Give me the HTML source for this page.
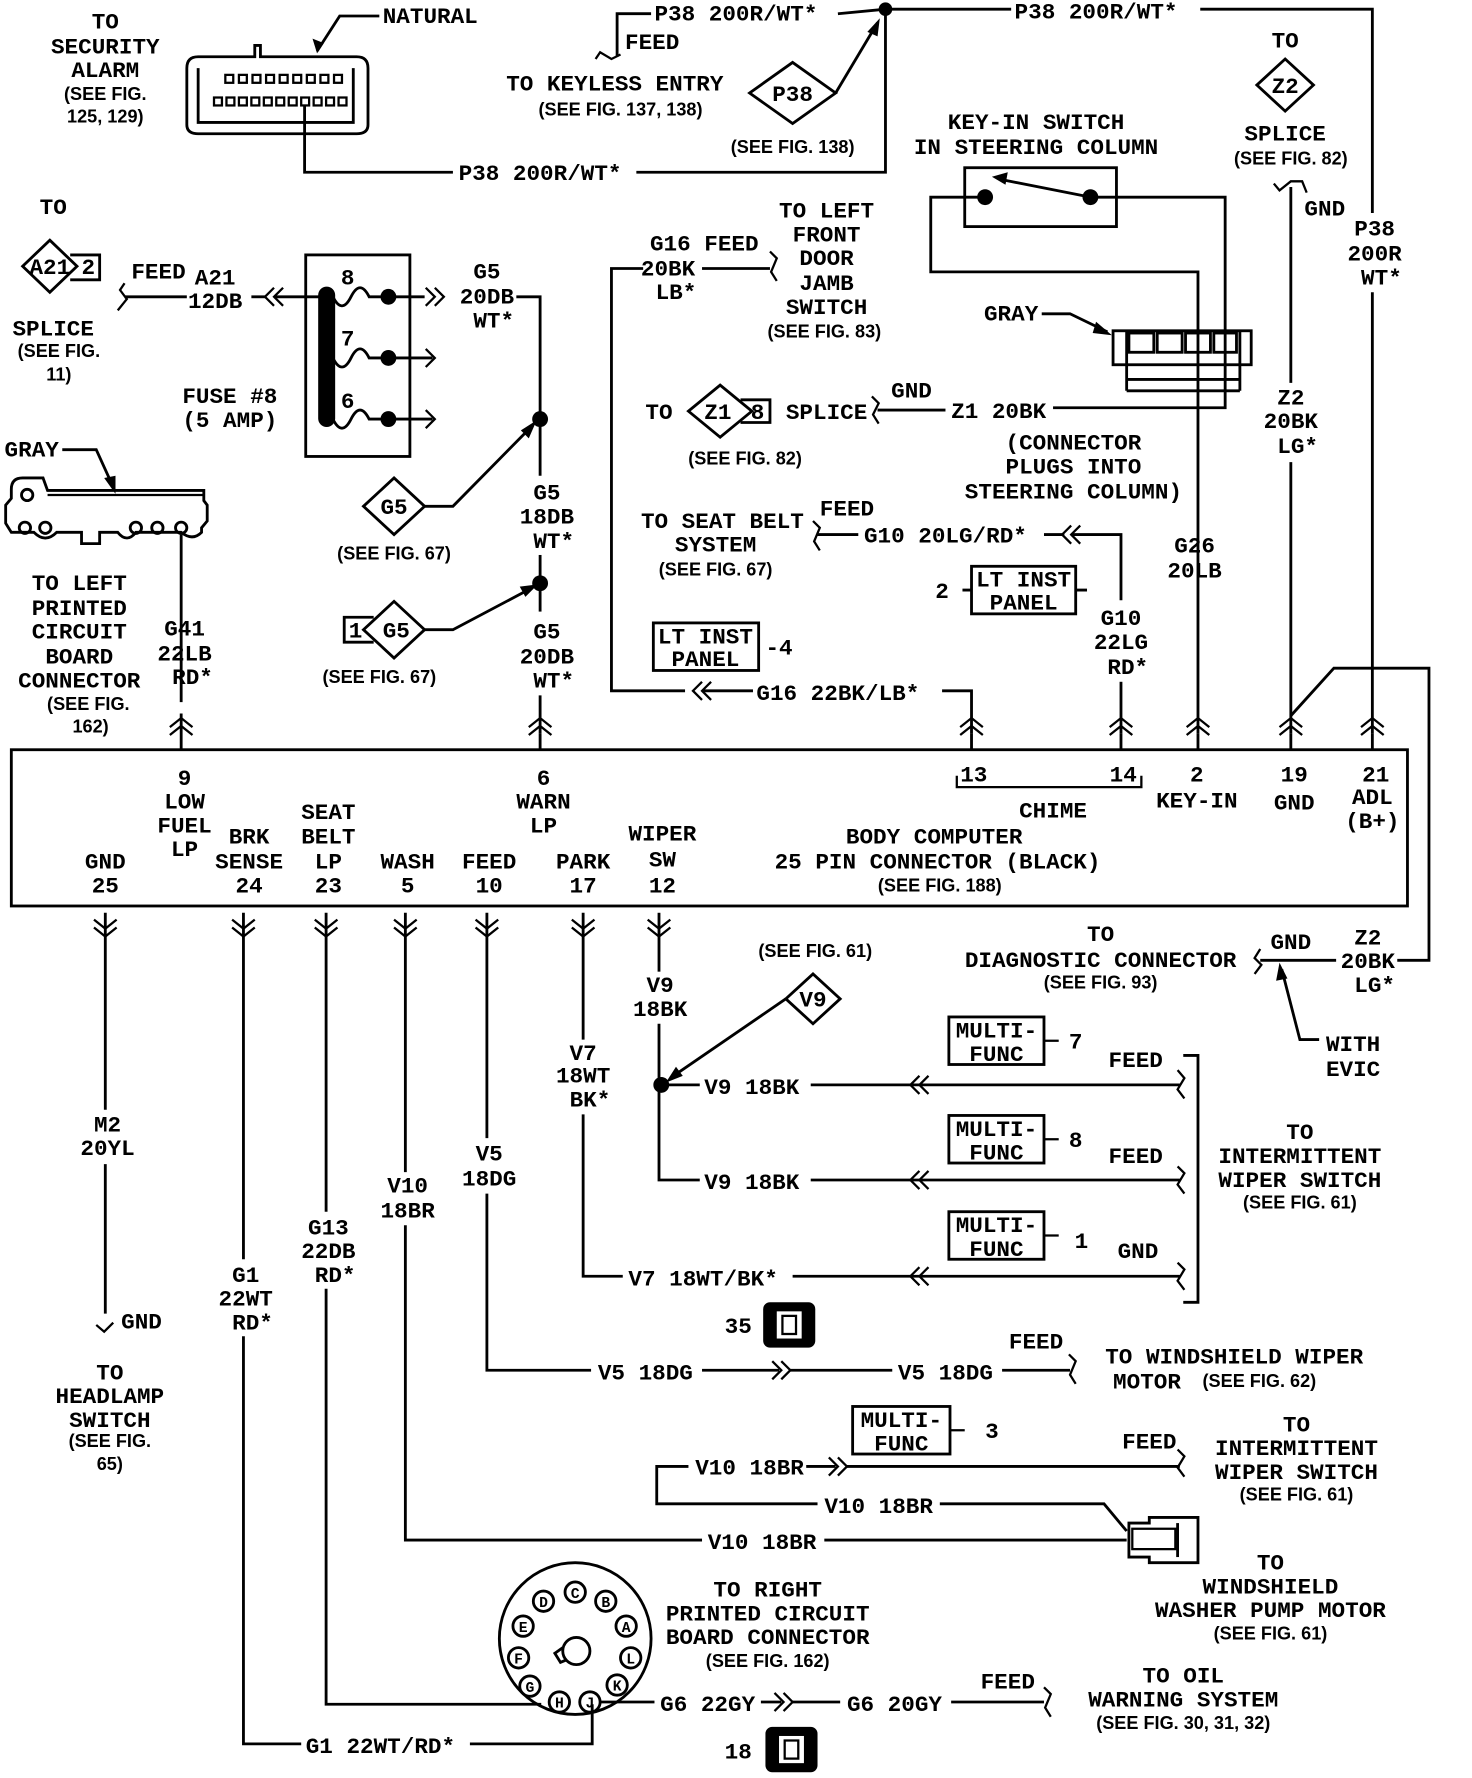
<!DOCTYPE html>
<html><head><meta charset="utf-8"><style>
html,body{margin:0;padding:0;background:#fff}
svg{display:block}
.t{font-family:"Liberation Mono",monospace;font-size:20px;font-weight:bold;fill:#000;text-anchor:middle}
.s{font-family:"Liberation Sans",sans-serif;font-size:16px;font-weight:bold;fill:#000;text-anchor:middle}
.l{text-anchor:start}
.w{fill:none;stroke:#000;stroke-width:2.5}
.c{fill:none;stroke:#000;stroke-width:2}
</style></head><body>
<svg width="1472" height="1778" viewBox="0 0 1300 1570" xmlns="http://www.w3.org/2000/svg">
<!-- ===== TOP LEFT ===== -->
<text class="t" x="93" y="25">TO</text>
<text class="t" x="93" y="47">SECURITY</text>
<text class="t" x="93" y="68">ALARM</text>
<text class="s" x="93" y="88">(SEE FIG.</text>
<text class="s" x="93" y="108">125, 129)</text>
<!-- connector natural -->
<path class="w" d="M165 60 Q165 50 175 50 L225 50 L225 40 L230 40 L230 50 L315 50 Q325 50 325 60 L325 110 Q325 118 315 118 L175 118 Q165 118 165 110 Z"/>
<path class="w" d="M175 60 L175 108 L312 108 L312 60"/>
<g class="c">
<rect x="199" y="66" width="7" height="7"/><rect x="211" y="66" width="7" height="7"/><rect x="223" y="66" width="7" height="7"/><rect x="235" y="66" width="7" height="7"/><rect x="247" y="66" width="7" height="7"/><rect x="259" y="66" width="7" height="7"/><rect x="271" y="66" width="7" height="7"/><rect x="283" y="66" width="7" height="7"/><rect x="295" y="66" width="7" height="7"/><rect x="307" y="66" width="0" height="0"/>
<rect x="189" y="86" width="7" height="7"/><rect x="200" y="86" width="7" height="7"/><rect x="211" y="86" width="7" height="7"/><rect x="222" y="86" width="7" height="7"/><rect x="233" y="86" width="7" height="7"/><rect x="244" y="86" width="7" height="7"/><rect x="255" y="86" width="7" height="7"/><rect x="266" y="86" width="7" height="7"/><rect x="277" y="86" width="7" height="7"/><rect x="288" y="86" width="7" height="7"/><rect x="299" y="86" width="7" height="7"/>
</g>
<text class="t l" x="338" y="20">NATURAL</text>
<path class="w" d="M335 14 L300 14 L280 45"/><path d="M280 47 L276 34 L286 38 Z"/>
<path class="w" d="M269 93 L269 152 L400 152"/>
<text class="t l" x="405" y="159">P38 200R/WT*</text>
<path class="w" d="M562 152 L782 152 L782 8"/>
<!-- P38 top -->
<path class="w" d="M545 50 L545 12 L575 12"/>
<text class="t l" x="578" y="18">P38 200R/WT*</text>
<path class="w" d="M740 12 L782 8 L893 8"/>
<circle cx="782" cy="8" r="6"/>
<text class="t l" x="896" y="16">P38 200R/WT*</text>
<path class="w" d="M1060 8 L1212 8 L1212 188"/>
<text class="t" x="1214" y="208">P38</text>
<text class="t" x="1214" y="230">200R</text>
<text class="t" x="1220" y="251">WT*</text>
<path class="w" d="M1212 258 L1212 648"/>
<text class="t l" x="552" y="43">FEED</text>
<path class="c" d="M526 52 L530 46 L540 52 L548 48"/>
<text class="t" x="543" y="80">TO KEYLESS ENTRY</text>
<text class="s" x="548" y="102">(SEE FIG. 137, 138)</text>
<path class="w" d="M700 55 L738 82 L700 109 L662 82 Z"/>
<text class="t" x="700" y="89">P38</text>
<path class="w" d="M738 82 L775 20"/><path d="M777 16 L766 28 L775 32 Z"/>
<text class="s" x="700" y="135">(SEE FIG. 138)</text>
<!-- Z2 splice -->
<text class="t" x="1135" y="42">TO</text>
<path class="w" d="M1135 52 L1160 75 L1135 98 L1110 75 Z"/>
<text class="t" x="1135" y="82">Z2</text>
<text class="t" x="1135" y="124">SPLICE</text>
<text class="s" x="1140" y="145">(SEE FIG. 82)</text>
<path class="c" d="M1125 162 L1130 168 L1140 160 L1150 160 L1154 170"/>
<path class="w" d="M1140 165 L1140 338"/>
<text class="t" x="1170" y="190">GND</text>
<text class="t" x="1140" y="357">Z2</text>
<text class="t" x="1140" y="378">20BK</text>
<text class="t" x="1146" y="400">LG*</text>
<path class="w" d="M1140 408 L1140 648"/>
<!-- key-in switch -->
<text class="t" x="915" y="114">KEY-IN SWITCH</text>
<text class="t" x="915" y="136">IN STEERING COLUMN</text>
<rect class="w" x="852" y="148" width="134" height="52"/>
<circle cx="870" cy="174" r="7"/><circle cx="963" cy="174" r="7"/>
<path class="w" d="M963 174 L882 158"/><path d="M876 156 L890 152 L888 163 Z"/>
<path class="w" d="M870 174 L822 174 L822 240 L1058 240 L1058 648"/>
<path class="w" d="M963 174 L1082 174 L1082 360 L930 360"/>
<text class="t" x="893" y="283">GRAY</text>
<path class="w" d="M920 277 L945 277 L978 293"/><path d="M982 296 L968 284 L965 294 Z"/>
<rect class="w" x="983" y="292" width="122" height="30"/>
<path class="w" d="M995 292 L995 335 L1095 335 L1095 292 M995 345 L1095 345 M995 335 L995 345 M1095 335 L1095 345"/>
<g class="w"><rect x="997" y="294" width="22" height="17"/><rect x="1022" y="294" width="22" height="17"/><rect x="1047" y="294" width="22" height="17"/><rect x="1072" y="294" width="20" height="17"/></g>
<!-- Z1 splice -->
<text class="t" x="582" y="370">TO</text>
<path class="w" d="M636 340 L664 363 L636 386 L608 363 Z"/>
<text class="t" x="634" y="370">Z1</text>
<path class="w" d="M654 353 L680 353 L680 373 L654 373"/>
<text class="t" x="669" y="370">8</text>
<text class="t" x="730" y="370">SPLICE</text>
<path class="c" d="M770 350 L776 356 L771 366 L776 374"/>
<path class="w" d="M775 362 L835 362"/>
<text class="t" x="805" y="351">GND</text>
<text class="t l" x="840" y="369">Z1 20BK</text>
<text class="s" x="658" y="410">(SEE FIG. 82)</text>
<text class="t" x="948" y="397">(CONNECTOR</text>
<text class="t" x="948" y="418">PLUGS INTO</text>
<text class="t" x="948" y="440">STEERING COLUMN)</text>
<!-- G16 -->
<text class="t" x="622" y="221">G16 FEED</text>
<text class="t" x="590" y="243">20BK</text>
<text class="t" x="597" y="264">LB*</text>
<path class="w" d="M568 237 L540 237 L540 610 L605 610"/>
<path class="w" d="M620 237 L680 237"/>
<path class="c" d="M680 222 L686 228 L681 240 L686 248"/>
<text class="t" x="730" y="192">TO LEFT</text>
<text class="t" x="730" y="213">FRONT</text>
<text class="t" x="730" y="234">DOOR</text>
<text class="t" x="730" y="256">JAMB</text>
<text class="t" x="730" y="277">SWITCH</text>
<text class="s" x="728" y="298">(SEE FIG. 83)</text>
<path class="c" d="M620 602 L612 610 L620 618 M628 602 L620 610 L628 618"/>
<path class="w" d="M620 610 L665 610"/>
<text class="t l" x="668" y="618">G16 22BK/LB*</text>
<path class="w" d="M832 610 L858 610 L858 648"/>
<rect class="w" x="577" y="550" width="93" height="42"/>
<text class="t" x="623" y="568">LT INST</text>
<text class="t" x="623" y="588">PANEL</text>
<text class="t l" x="676" y="578">-4</text>
<!-- seat belt -->
<text class="t" x="638" y="466">TO SEAT BELT</text>
<text class="t" x="632" y="487">SYSTEM</text>
<text class="s" x="632" y="508">(SEE FIG. 67)</text>
<path class="c" d="M718 460 L724 466 L719 478 L724 486"/>
<path class="w" d="M722 472 L758 472"/>
<text class="t" x="748" y="455">FEED</text>
<text class="t l" x="763" y="479">G10 20LG/RD*</text>
<path class="w" d="M922 472 L940 472"/>
<path class="c" d="M946 464 L938 472 L946 480 M954 464 L946 472 L954 480"/>
<path class="w" d="M946 472 L990 472 L990 530"/>
<text class="t" x="990" y="552">G10</text>
<text class="t" x="990" y="573">22LG</text>
<text class="t" x="996" y="595">RD*</text>
<path class="w" d="M990 602 L990 648"/>
<rect class="w" x="858" y="500" width="92" height="42"/>
<path class="w" d="M850 521 L858 521 M950 521 L960 521"/>
<text class="t" x="904" y="518">LT INST</text>
<text class="t" x="904" y="538">PANEL</text>
<text class="t" x="832" y="528">2</text>
<text class="t" x="1055" y="488">G26</text>
<text class="t" x="1055" y="510">20LB</text>
<!-- A21 splice & fuse -->
<text class="t" x="47" y="189">TO</text>
<path class="w" d="M44 212 L68 235 L44 258 L20 235 Z"/>
<text class="t" x="44" y="242">A21</text>
<path class="w" d="M62 225 L88 225 L88 247 L62 247"/>
<text class="t" x="78" y="242">2</text>
<text class="t" x="140" y="246">FEED</text>
<text class="t" x="190" y="251">A21</text>
<text class="t" x="190" y="272">12DB</text>
<path class="c" d="M110 250 L106 256 L112 264 L104 274"/>
<path class="w" d="M110 262 L165 262"/>
<path class="w" d="M222 262 L234 262"/>
<path class="c" d="M242 254 L234 262 L242 270 M250 254 L242 262 L250 270"/>
<path class="w" d="M242 262 L288 262"/>
<text class="t" x="47" y="296">SPLICE</text>
<text class="s" x="52" y="315">(SEE FIG.</text>
<text class="s" x="52" y="336">11)</text>
<text class="t" x="203" y="356">FUSE #8</text>
<text class="t" x="203" y="377">(5 AMP)</text>
<rect class="w" x="270" y="225" width="92" height="178"/>
<rect x="281" y="253" width="15" height="124" rx="7.5"/>
<text class="t" x="307" y="251">8</text><text class="t" x="307" y="305">7</text><text class="t" x="307" y="360">6</text>
<g class="w">
<path d="M294 262 Q302 278 310 262 Q318 246 326 262 L375 262"/>
<path d="M294 316 Q302 332 310 316 Q318 300 326 316 L382 316"/>
<path d="M294 370 Q302 386 310 370 Q318 354 326 370 L382 370"/>
</g>
<circle cx="343" cy="262" r="7"/><circle cx="343" cy="316" r="7"/><circle cx="343" cy="370" r="7"/>
<path class="c" d="M376 308 L384 316 L376 324 M376 362 L384 370 L376 378"/>
<path class="c" d="M376 254 L384 262 L376 270 M384 254 L392 262 L384 270"/>
<text class="t" x="430" y="246">G5</text>
<text class="t" x="430" y="268">20DB</text>
<text class="t" x="436" y="289">WT*</text>
<path class="w" d="M456 262 L477 262 L477 420"/>
<circle cx="477" cy="370" r="7"/>
<text class="t" x="483" y="441">G5</text>
<text class="t" x="483" y="462">18DB</text>
<text class="t" x="489" y="484">WT*</text>
<path class="w" d="M477 490 L477 540"/>
<circle cx="477" cy="515" r="7"/>
<text class="t" x="483" y="564">G5</text>
<text class="t" x="483" y="586">20DB</text>
<text class="t" x="489" y="607">WT*</text>
<path class="w" d="M477 614 L477 648"/>
<path class="w" d="M348 422 L375 447 L348 472 L321 447 Z"/>
<text class="t" x="348" y="454">G5</text>
<path class="w" d="M375 447 L400 447 L470 376"/><path d="M474 371 L460 380 L467 387 Z"/>
<text class="s" x="348" y="494">(SEE FIG. 67)</text>
<path class="w" d="M348 531 L375 556 L348 581 L321 556 Z"/>
<text class="t" x="350" y="563">G5</text>
<path class="w" d="M330 545 L304 545 L304 567 L330 567"/>
<text class="t" x="314" y="563">1</text>
<path class="w" d="M375 556 L400 556 L470 519"/><path d="M475 516 L459 518 L464 527 Z"/>
<text class="s" x="335" y="603">(SEE FIG. 67)</text>
<!-- gray left connector -->
<text class="t" x="28" y="403">GRAY</text>
<path class="w" d="M55 397 L85 397 L100 430"/><path d="M102 436 L92 422 L102 420 Z"/>
<path class="w" d="M10 432 Q10 422 20 422 L38 422 L42 433 L180 433 L180 442 L183 446 L183 460 L178 466 L178 470 Q170 478 160 470 L120 470 Q112 480 104 470 L88 470 L88 480 L72 480 L72 470 L50 470 Q40 480 30 470 L10 470 L5 462 L5 446 L10 440 Z"/>
<path class="c" d="M42 437 L180 437"/>
<g class="w"><circle cx="24" cy="437" r="5"/><circle cx="22" cy="466" r="5"/><circle cx="40" cy="466" r="5"/><circle cx="120" cy="466" r="5"/><circle cx="139" cy="466" r="5"/><circle cx="160" cy="466" r="5"/></g>
<path class="w" d="M160 472 L160 620"/>
<text class="t" x="70" y="521">TO LEFT</text>
<text class="t" x="70" y="543">PRINTED</text>
<text class="t" x="70" y="564">CIRCUIT</text>
<text class="t" x="70" y="586">BOARD</text>
<text class="t" x="70" y="607">CONNECTOR</text>
<text class="s" x="78" y="627">(SEE FIG.</text>
<text class="s" x="80" y="647">162)</text>
<text class="t" x="163" y="561">G41</text>
<text class="t" x="163" y="583">22LB</text>
<text class="t" x="170" y="604">RD*</text>
<path class="w" d="M160 630 L160 662"/>
<!-- pin up chevrons -->
<g class="c">
<path d="M150 642 L160 634 L170 642 M150 649 L160 641 L170 649"/>
<path d="M467 642 L477 634 L487 642 M467 649 L477 641 L487 649"/>
<path d="M848 642 L858 634 L868 642 M848 649 L858 641 L868 649"/>
<path d="M980 642 L990 634 L1000 642 M980 649 L990 641 L1000 649"/>
<path d="M1048 642 L1058 634 L1068 642 M1048 649 L1058 641 L1068 649"/>
<path d="M1130 642 L1140 634 L1150 642 M1130 649 L1140 641 L1150 649"/>
<path d="M1202 642 L1212 634 L1222 642 M1202 649 L1212 641 L1222 649"/>
</g>
<path class="w" d="M858 648 L858 662 M990 648 L990 662 M1058 648 L1058 662 M1140 648 L1140 662 M1212 648 L1212 662 M477 648 L477 662"/>
<!-- Z2 to diagnostic -->
<path class="w" d="M1140 632 L1178 590 L1262 590 L1262 848 L1234 848"/>
<!-- ===== BODY COMPUTER ===== -->
<rect class="w" x="10" y="662" width="1233" height="138"/>
<text class="t" x="163" y="693">9</text><text class="t" x="163" y="714">LOW</text><text class="t" x="163" y="735">FUEL</text><text class="t" x="163" y="756">LP</text>
<text class="t" x="480" y="693">6</text><text class="t" x="480" y="714">WARN</text><text class="t" x="480" y="735">LP</text>
<text class="t" x="860" y="690">13</text><text class="t" x="992" y="690">14</text>
<path class="c" d="M845 685 L845 695 L1008 695 L1008 685"/>
<text class="t" x="930" y="722">CHIME</text>
<text class="t" x="1057" y="690">2</text><text class="t" x="1057" y="713">KEY-IN</text>
<text class="t" x="1143" y="690">19</text><text class="t" x="1143" y="715">GND</text>
<text class="t" x="1215" y="690">21</text><text class="t" x="1212" y="710">ADL</text><text class="t" x="1212" y="731">(B+)</text>
<text class="t" x="93" y="767">GND</text><text class="t" x="93" y="788">25</text>
<text class="t" x="220" y="745">BRK</text><text class="t" x="220" y="767">SENSE</text><text class="t" x="220" y="788">24</text>
<text class="t" x="290" y="723">SEAT</text><text class="t" x="290" y="745">BELT</text><text class="t" x="290" y="767">LP</text><text class="t" x="290" y="788">23</text>
<text class="t" x="360" y="767">WASH</text><text class="t" x="360" y="788">5</text>
<text class="t" x="432" y="767">FEED</text><text class="t" x="432" y="788">10</text>
<text class="t" x="515" y="767">PARK</text><text class="t" x="515" y="788">17</text>
<text class="t" x="585" y="742">WIPER</text><text class="t" x="585" y="765">SW</text><text class="t" x="585" y="788">12</text>
<text class="t" x="825" y="745">BODY COMPUTER</text>
<text class="t" x="828" y="767">25 PIN CONNECTOR (BLACK)</text>
<text class="s" x="830" y="787">(SEE FIG. 188)</text>
<!-- bottom chevrons -->
<g class="c">
<path d="M83 812 L93 820 L103 812 M83 819 L93 827 L103 819"/>
<path d="M205 812 L215 820 L225 812 M205 819 L215 827 L225 819"/>
<path d="M278 812 L288 820 L298 812 M278 819 L288 827 L298 819"/>
<path d="M348 812 L358 820 L368 812 M348 819 L358 827 L368 819"/>
<path d="M420 812 L430 820 L440 812 M420 819 L430 827 L440 819"/>
<path d="M505 812 L515 820 L525 812 M505 819 L515 827 L525 819"/>
<path d="M572 812 L582 820 L592 812 M572 819 L582 827 L592 819"/>
</g>
<!-- diagnostic -->
<text class="t" x="972" y="831">TO</text>
<text class="t" x="972" y="854">DIAGNOSTIC CONNECTOR</text>
<text class="s" x="972" y="873">(SEE FIG. 93)</text>
<path class="c" d="M1113 838 L1108 846 L1114 852 L1108 860"/>
<path class="w" d="M1113 848 L1180 848"/>
<text class="t" x="1140" y="838">GND</text>
<text class="t" x="1208" y="834">Z2</text>
<text class="t" x="1208" y="855">20BK</text>
<text class="t" x="1214" y="876">LG*</text>
<path class="w" d="M1165 918 L1148 918 L1132 856"/><path d="M1130 850 L1127 866 L1137 864 Z"/>
<text class="t" x="1195" y="928">WITH</text>
<text class="t" x="1195" y="950">EVIC</text>
<!-- ===== BOTTOM WIRES ===== -->
<path class="w" d="M93 806 L93 980"/>
<text class="t" x="95" y="999">M2</text><text class="t" x="95" y="1020">20YL</text>
<path class="w" d="M93 1028 L93 1160"/>
<path class="c" d="M85 1170 L92 1176 L100 1168"/>
<text class="t" x="125" y="1173">GND</text>
<text class="t" x="97" y="1218">TO</text><text class="t" x="97" y="1239">HEADLAMP</text><text class="t" x="97" y="1260">SWITCH</text>
<text class="s" x="97" y="1278">(SEE FIG.</text><text class="s" x="97" y="1298">65)</text>
<path class="w" d="M215 806 L215 1112"/>
<text class="t" x="217" y="1132">G1</text><text class="t" x="217" y="1153">22WT</text><text class="t" x="223" y="1174">RD*</text>
<path class="w" d="M215 1180 L215 1540 L266 1540"/>
<text class="t l" x="270" y="1548">G1 22WT/RD*</text>
<path class="w" d="M415 1540 L523 1540 L523 1505"/>
<path class="w" d="M288 806 L288 1070"/>
<text class="t" x="290" y="1090">G13</text><text class="t" x="290" y="1111">22DB</text><text class="t" x="296" y="1132">RD*</text>
<path class="w" d="M288 1138 L288 1505 L478 1505"/>
<path class="w" d="M358 806 L358 1035"/>
<text class="t" x="360" y="1053">V10</text><text class="t" x="360" y="1075">18BR</text>
<path class="w" d="M358 1082 L358 1360 L620 1360"/>
<text class="t l" x="625" y="1368">V10 18BR</text>
<path class="w" d="M728 1360 L995 1360"/>
<path class="w" d="M997 1345 L1015 1345 L1015 1340 L1058 1340 L1058 1380 L1015 1380 L1015 1375 L997 1375 Z"/>
<rect class="c" x="1000" y="1350" width="38" height="18"/>
<path class="w" d="M1040 1345 L1040 1375"/>
<path class="w" d="M430 806 L430 1005"/>
<text class="t" x="432" y="1025">V5</text><text class="t" x="432" y="1047">18DG</text>
<path class="w" d="M430 1054 L430 1210 L522 1210"/>
<text class="t l" x="528" y="1218">V5 18DG</text>
<path class="w" d="M620 1210 L688 1210"/>
<path class="c" d="M682 1202 L690 1210 L682 1218 M690 1202 L698 1210 L690 1218"/>
<path class="w" d="M698 1210 L788 1210"/>
<text class="t l" x="793" y="1218">V5 18DG</text>
<path class="w" d="M885 1210 L945 1210"/>
<path class="c" d="M944 1196 L950 1202 L945 1214 L950 1222"/>
<text class="t" x="915" y="1191">FEED</text>
<text class="t" x="1090" y="1204">TO WINDSHIELD WIPER</text>
<text class="t l" x="983" y="1226">MOTOR</text><text class="s" style="text-anchor:start" x="1062" y="1225">(SEE FIG. 62)</text>
<text class="t" x="652" y="1177">35</text>
<rect x="674" y="1150" width="46" height="40" rx="6"/>
<rect x="686" y="1158" width="22" height="24" fill="#fff"/>
<rect x="691" y="1162" width="12" height="16" fill="none" stroke="#000" stroke-width="2"/>
<path class="w" d="M515 806 L515 918"/>
<text class="t" x="515" y="936">V7</text><text class="t" x="515" y="956">18WT</text><text class="t" x="521" y="977">BK*</text>
<path class="w" d="M515 984 L515 1127 L550 1127"/>
<text class="t l" x="555" y="1135">V7 18WT/BK*</text>
<path class="w" d="M700 1127 L812 1127"/>
<path class="c" d="M812 1119 L804 1127 L812 1135 M820 1119 L812 1127 L820 1135"/>
<path class="w" d="M812 1127 L1042 1127"/>
<path class="w" d="M582 806 L582 858"/>
<text class="t" x="583" y="876">V9</text><text class="t" x="583" y="897">18BK</text>
<path class="w" d="M582 904 L582 1042 L618 1042"/>
<circle cx="584" cy="958" r="7"/>
<path class="w" d="M584 958 L618 958"/>
<text class="t l" x="622" y="966">V9 18BK</text>
<path class="w" d="M716 958 L812 958"/>
<path class="c" d="M812 950 L804 958 L812 966 M820 950 L812 958 L820 966"/>
<path class="w" d="M812 958 L1042 958"/>
<text class="t l" x="622" y="1050">V9 18BK</text>
<path class="w" d="M716 1042 L812 1042"/>
<path class="c" d="M812 1034 L804 1042 L812 1050 M820 1034 L812 1042 L820 1050"/>
<path class="w" d="M812 1042 L1042 1042"/>
<path class="w" d="M718 860 L742 882 L718 904 L694 882 Z"/>
<text class="t" x="718" y="889">V9</text>
<path class="w" d="M694 882 L592 952"/><path d="M588 956 L597 942 L603 950 Z"/>
<text class="s" x="720" y="845">(SEE FIG. 61)</text>
<g class="w">
<rect x="838" y="898" width="84" height="42"/>
<rect x="838" y="985" width="84" height="42"/>
<rect x="838" y="1070" width="84" height="42"/>
<rect x="753" y="1242" width="86" height="42"/>
</g>
<text class="t" x="880" y="916">MULTI-</text><text class="t" x="880" y="937">FUNC</text>
<text class="t" x="880" y="1003">MULTI-</text><text class="t" x="880" y="1024">FUNC</text>
<text class="t" x="880" y="1088">MULTI-</text><text class="t" x="880" y="1109">FUNC</text>
<text class="t" x="796" y="1260">MULTI-</text><text class="t" x="796" y="1281">FUNC</text>
<path class="c" d="M922 919 L935 919 M922 1006 L935 1006 M922 1091 L935 1091 M839 1263 L852 1263"/>
<text class="t" x="950" y="926">7</text><text class="t" x="950" y="1013">8</text><text class="t" x="955" y="1102">1</text><text class="t" x="876" y="1270">3</text>
<text class="t" x="1003" y="942">FEED</text><text class="t" x="1003" y="1027">FEED</text><text class="t" x="1005" y="1111">GND</text>
<g class="c">
<path d="M1040 945 L1046 952 L1040 962 L1046 970"/>
<path d="M1040 1030 L1046 1036 L1040 1046 L1046 1054"/>
<path d="M1040 1115 L1046 1121 L1040 1131 L1046 1139"/>
<path d="M1040 1280 L1046 1286 L1040 1296 L1046 1304"/>
</g>
<path class="w" d="M1045 932 L1058 932 L1058 1150 L1045 1150"/>
<text class="t" x="1148" y="1006">TO</text><text class="t" x="1148" y="1027">INTERMITTENT</text><text class="t" x="1148" y="1048">WIPER SWITCH</text>
<text class="s" x="1148" y="1067">(SEE FIG. 61)</text>
<path class="w" d="M608 1295 L580 1295 L580 1328 L722 1328"/>
<text class="t l" x="614" y="1302">V10 18BR</text>
<path class="w" d="M712 1295 L738 1295"/>
<path class="c" d="M732 1287 L740 1295 L732 1303 M740 1287 L748 1295 L740 1303"/>
<path class="w" d="M748 1295 L1042 1295"/>
<text class="t" x="1015" y="1279">FEED</text>
<text class="t l" x="728" y="1336">V10 18BR</text>
<path class="w" d="M830 1328 L975 1328 L995 1352"/>
<text class="t" x="1145" y="1264">TO</text><text class="t" x="1145" y="1285">INTERMITTENT</text><text class="t" x="1145" y="1306">WIPER SWITCH</text>
<text class="s" x="1145" y="1325">(SEE FIG. 61)</text>
<text class="t" x="1122" y="1386">TO</text><text class="t" x="1122" y="1407">WINDSHIELD</text><text class="t" x="1122" y="1428">WASHER PUMP MOTOR</text>
<text class="s" x="1122" y="1448">(SEE FIG. 61)</text>
<!-- round connector -->
<circle class="w" cx="508" cy="1447" r="67"/>
<g class="w">
<circle cx="508" cy="1406" r="9"/><circle cx="480" cy="1414" r="9"/><circle cx="535" cy="1414" r="9"/>
<circle cx="462" cy="1436" r="9"/><circle cx="553" cy="1436" r="9"/>
<circle cx="458" cy="1464" r="9"/><circle cx="557" cy="1464" r="9"/>
<circle cx="468" cy="1489" r="9"/><circle cx="545" cy="1488" r="9"/>
<circle cx="494" cy="1503" r="9"/><circle cx="521" cy="1503" r="9"/>
<circle cx="509" cy="1458" r="12"/><path d="M497 1455 L490 1460 L495 1468 L500 1466"/>
</g>
<g class="t" style="font-size:13px">
<text x="508" y="1411">C</text><text x="480" y="1419">D</text><text x="535" y="1419">B</text>
<text x="462" y="1441">E</text><text x="553" y="1441">A</text>
<text x="458" y="1469">F</text><text x="557" y="1469">L</text>
<text x="468" y="1494">G</text><text x="545" y="1493">K</text>
<text x="494" y="1508">H</text><text x="521" y="1508">J</text>
</g>
<text class="t" x="678" y="1410">TO RIGHT</text><text class="t" x="678" y="1431">PRINTED CIRCUIT</text><text class="t" x="678" y="1452">BOARD CONNECTOR</text>
<text class="s" x="678" y="1472">(SEE FIG. 162)</text>
<path class="w" d="M530 1503 L578 1503"/>
<text class="t l" x="583" y="1511">G6 22GY</text>
<path class="w" d="M672 1503 L690 1503"/>
<path class="c" d="M684 1495 L692 1503 L684 1511 M692 1495 L700 1503 L692 1511"/>
<path class="w" d="M700 1503 L742 1503"/>
<text class="t l" x="748" y="1511">G6 20GY</text>
<path class="w" d="M840 1503 L922 1503"/>
<path class="c" d="M922 1490 L928 1496 L923 1508 L928 1516"/>
<text class="t" x="890" y="1491">FEED</text>
<text class="t" x="1045" y="1486">TO OIL</text><text class="t" x="1045" y="1507">WARNING SYSTEM</text>
<text class="s" x="1045" y="1527">(SEE FIG. 30, 31, 32)</text>
<text class="t" x="652" y="1553">18</text>
<rect x="676" y="1525" width="46" height="40" rx="6"/>
<rect x="688" y="1533" width="22" height="24" fill="#fff"/>
<rect x="693" y="1537" width="12" height="16" fill="none" stroke="#000" stroke-width="2"/>
</svg>
</body></html>
